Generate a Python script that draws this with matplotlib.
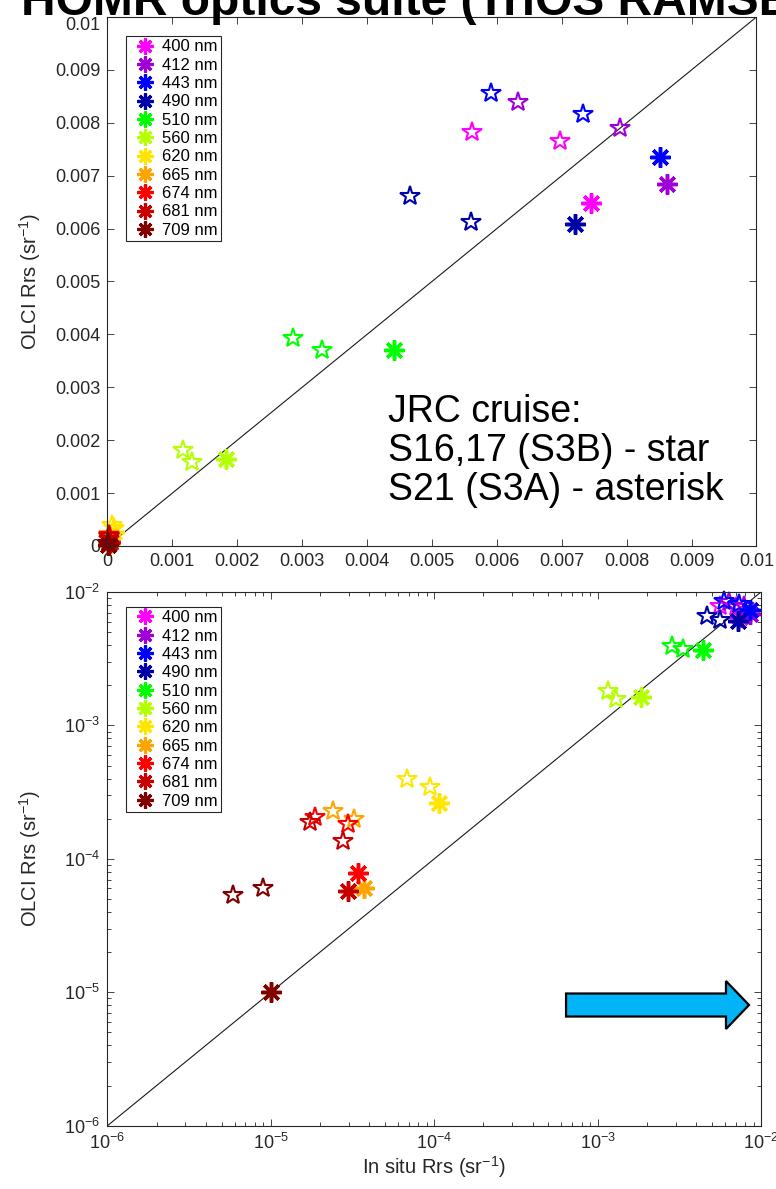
import matplotlib
matplotlib.use("Agg")
import matplotlib.pyplot as plt
import matplotlib.transforms as mtransforms
from matplotlib.ticker import FixedLocator, FuncFormatter, LogLocator, NullFormatter
from matplotlib.lines import Line2D
from matplotlib.patches import FancyArrow

plt.rcParams['font.family'] = ['Liberation Sans', 'DejaVu Sans']
plt.rcParams['mathtext.fontset'] = 'custom'
plt.rcParams['mathtext.rm'] = 'Liberation Sans'
plt.rcParams['mathtext.it'] = 'Liberation Sans:italic'
plt.rcParams['mathtext.bf'] = 'Liberation Sans:bold'

# ---- data -------------------------------------------------------------
bands = [400, 412, 443, 490, 510, 560, 620, 665, 674, 681, 709]
band_colors = ['#FF00FF', '#A000D8', '#0000FF', '#0000A8', '#00FF00', '#B4FF00',
               '#FFE600', '#FFA500', '#FF0000', '#C80000', '#800000']

# S16,17 cruise matchups (Sentinel-3B), two stations per band
s3b_insitu = [[5.61e-3, 6.98e-3], [6.33e-3, 7.89e-3], [5.905e-3, 7.32e-3],
              [4.66e-3, 5.60e-3], [2.86e-3, 3.31e-3], [1.16e-3, 1.30e-3],
              [6.81e-5, 9.42e-5], [2.39e-5, 3.24e-5], [1.86e-5, 2.98e-5],
              [1.74e-5, 2.75e-5], [5.89e-6, 9.0e-6]]
s3b_olci = [[7.82e-3, 7.66e-3], [8.40e-3, 7.91e-3], [8.57e-3, 8.17e-3],
            [6.62e-3, 6.13e-3], [3.93e-3, 3.71e-3], [1.81e-3, 1.59e-3],
            [3.94e-4, 3.44e-4], [2.28e-4, 1.98e-4], [2.05e-4, 1.81e-4],
            [1.90e-4, 1.36e-4], [5.35e-5, 6.01e-5]]

# S21 cruise matchup (Sentinel-3A), one station per band
s3a_insitu = [7.45e-3, 8.62e-3, 8.51e-3, 7.20e-3, 4.42e-3, 1.83e-3,
              1.075e-4, 3.74e-5, 3.40e-5, 2.98e-5, 1.0e-5]
s3a_olci = [6.49e-3, 6.84e-3, 7.36e-3, 6.08e-3, 3.70e-3, 1.64e-3,
            2.61e-4, 6.01e-5, 7.87e-5, 5.74e-5, 1.0e-5]

lin_ticks = [0, 0.001, 0.002, 0.003, 0.004, 0.005, 0.006, 0.007, 0.008, 0.009, 0.01]
log_limits = (1e-6, 1e-2)

# ---- styling ----------------------------------------------------------
AX_COLOR = '0.15'
ASTERISK = (8, 2, 0)

fig = plt.figure(figsize=(7.76, 11.89), dpi=100)
ax_lin = fig.add_axes([0.1385, 0.5408, 0.8363, 0.4449])
ax_log = fig.add_axes([0.1384, 0.0532, 0.8423, 0.4489])


def draw_matchups(ax):
    for i, c in enumerate(band_colors):
        ax.plot(s3b_insitu[i], s3b_olci[i], linestyle='none', marker='*',
                markersize=14.5, markerfacecolor='none', markeredgecolor=c,
                markeredgewidth=1.5, clip_on=False)
        ax.plot([s3a_insitu[i]], [s3a_olci[i]], linestyle='none', marker=ASTERISK,
                markersize=14.5, color=c, markeredgewidth=2.5, clip_on=False)


def style_axes(ax):
    for sp in ax.spines.values():
        sp.set_color(AX_COLOR)
        sp.set_linewidth(0.8)
    ax.tick_params(which='both', direction='in', top=True, right=True,
                   color=AX_COLOR, labelcolor=AX_COLOR, labelsize=13, width=0.6)
    ax.tick_params(which='major', length=5, pad=5)
    ax.tick_params(which='minor', length=3)


def add_legend(ax, anchor):
    handles = [Line2D([], [], linestyle='none', marker=ASTERISK, markersize=11.5,
                      color=c, markeredgewidth=2.3) for c in band_colors]
    labels = [f'{b} nm' for b in bands]
    leg = ax.legend(handles, labels, loc='upper left', bbox_to_anchor=anchor,
                    borderaxespad=0, fontsize=12, labelspacing=0.2,
                    handlelength=1.9, handletextpad=0.05, borderpad=0.2,
                    fancybox=False, framealpha=1, edgecolor=AX_COLOR)
    leg.get_frame().set_linewidth(0.8)


# ---- linear panel -----------------------------------------------------
ax_lin.plot([0, 0.01], [0, 0.01], color='0.1', linewidth=0.8)
draw_matchups(ax_lin)
ax_lin.set_xlim(0, 0.01)
ax_lin.set_ylim(0, 0.01)
fmt = FuncFormatter(lambda v, p: f'{v:g}')
ax_lin.xaxis.set_major_locator(FixedLocator(lin_ticks))
ax_lin.yaxis.set_major_locator(FixedLocator(lin_ticks))
ax_lin.xaxis.set_major_formatter(fmt)
ax_lin.yaxis.set_major_formatter(fmt)
style_axes(ax_lin)
ax_lin.set_ylabel('OLCI Rrs (sr$^{-1}$)', fontsize=14.5, color=AX_COLOR)
ax_lin.yaxis.set_label_coords(-0.1, 0.5)
add_legend(ax_lin, (0.0285, 0.964))
ax_lin.text(0.432, 0.18, 'JRC cruise:\nS16,17 (S3B) - star\nS21 (S3A) - asterisk',
            transform=ax_lin.transAxes, fontsize=27, ha='left', va='center',
            linespacing=1.1, color='black')

# nudge the topmost y tick label down a little, clear of the title
fig.canvas.draw()
top_label = ax_lin.yaxis.get_majorticklabels()[-1]
top_label.set_transform(top_label.get_transform() +
                        mtransforms.ScaledTranslation(0, -5 / 72, fig.dpi_scale_trans))

# ---- log panel --------------------------------------------------------
ax_log.plot(log_limits, log_limits, color='0.1', linewidth=0.8)
draw_matchups(ax_log)
ax_log.set_xscale('log')
ax_log.set_yscale('log')
ax_log.set_xlim(*log_limits)
ax_log.set_ylim(*log_limits)
for axis in (ax_log.xaxis, ax_log.yaxis):
    axis.set_major_locator(LogLocator(base=10, numticks=10))
    axis.set_minor_locator(LogLocator(base=10, subs=range(2, 10), numticks=10))
    axis.set_minor_formatter(NullFormatter())
style_axes(ax_log)
ax_log.set_ylabel('OLCI Rrs (sr$^{-1}$)', fontsize=14.5, color=AX_COLOR)
ax_log.yaxis.set_label_coords(-0.099, 0.5)
ax_log.set_xlabel('In situ Rrs (sr$^{-1}$)', fontsize=14.5, color=AX_COLOR)
ax_log.xaxis.set_label_coords(0.5, -0.054)
add_legend(ax_log, (0.0285, 0.972))

arrow = FancyArrow(0.7017, 0.2262, 0.9816 - 0.7017, 0, width=0.0431,
                   head_width=0.0899, head_length=0.0352,
                   length_includes_head=True, transform=ax_log.transAxes,
                   facecolor='#00B4F5', edgecolor='black', linewidth=1.6,
                   clip_on=False, zorder=5)
ax_log.add_patch(arrow)

fig.text(21 / 776, 1 - 15 / 1189, 'HOMR optics suite (TriOS RAMSES)',
         fontsize=34.5, fontweight='bold', ha='left', va='baseline')

fig.savefig('out.png', dpi=100)
